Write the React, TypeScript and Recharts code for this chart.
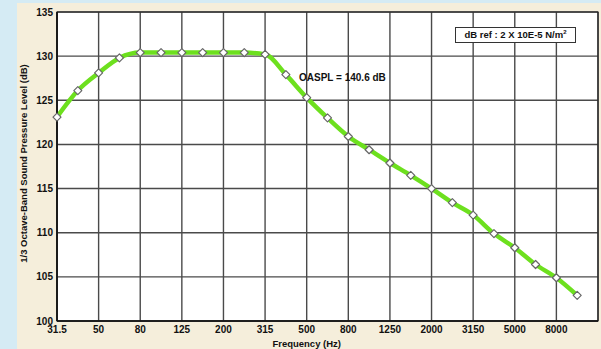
import React from 'react';
import { LineChart, Line, XAxis, YAxis, CartesianGrid, ReferenceArea } from 'recharts';

// 1/3 octave band centre frequencies (Hz)
const bandLabels = [
  '31.5', '40', '50', '63', '80', '100', '125', '160', '200', '250', '315', '400', '500',
  '630', '800', '1000', '1250', '1600', '2000', '2500', '3150', '4000', '5000', '6300', '8000', '10000',
];

// band level in dB
const bandLevels = [
  123.1, 126.1, 128.1, 129.8, 130.4, 130.4, 130.4, 130.4, 130.4, 130.4, 130.2, 127.9, 125.3,
  123.0, 120.9, 119.4, 117.9, 116.5, 115.0, 113.4, 112.0, 109.9, 108.3, 106.4, 104.9, 102.9,
];

// labelled x ticks (every other band)
const xTickLabels = ['31.5', '50', '80', '125', '200', '315', '500', '800', '1250', '2000', '3150', '5000', '8000'];
const yTicks = [100, 105, 110, 115, 120, 125, 130, 135];

const data = bandLabels.map((band, i) => ({ idx: i, band, level: bandLevels[i] }));
const xTicks = [...xTickLabels.map((l) => bandLabels.indexOf(l)), bandLabels.length];

const FONT = '"Liberation Sans", Arial, sans-serif';

const Diamond = (props: any) => {
  const { cx, cy } = props;
  if (cx == null || cy == null) return null;
  const r = 4;
  return (
    <polygon
      points={`${cx},${cy - r} ${cx + r},${cy} ${cx},${cy + r} ${cx - r},${cy}`}
      fill="#fff"
      stroke="#666"
      strokeWidth={1.2}
      strokeLinejoin="round"
    />
  );
};

const YLabel = ({ viewBox }: any) => {
  const cx = viewBox.x + 6.5;
  const cy = viewBox.y + viewBox.height / 2 - 3;
  return (
    <text
      x={cx}
      y={cy}
      transform={`rotate(-90 ${cx} ${cy})`}
      textAnchor="middle"
      dominantBaseline="central"
      fontFamily={FONT}
      fontWeight="bold"
      fontSize={9.5}
      fill="#111"
    >
      1/3 Octave-Band Sound Pressure Level (dB)
    </text>
  );
};

const XLabel = ({ viewBox }: any) => {
  const cx = viewBox.x + (viewBox.width * 12) / 26;
  const cy = viewBox.y + 22;
  return (
    <text
      x={cx}
      y={cy}
      textAnchor="middle"
      dominantBaseline="central"
      fontFamily={FONT}
      fontWeight="bold"
      fontSize={9.5}
      fill="#111"
    >
      Frequency (Hz)
    </text>
  );
};

const tickStyle = { fontFamily: FONT, fontWeight: 'bold', fontSize: 10, fill: '#111' };

export default function App() {
  return (
    <div style={{ position: 'absolute', left: 0, top: 0, width: 601, height: 349, background: '#d5ebf4', overflow: 'hidden' }}>
      <div style={{ position: 'absolute', left: 17, top: 3, width: 584, height: 346, background: '#f5eedb' }}>
        <LineChart width={584} height={346} data={data} margin={{ top: 9, right: 3, left: 0, bottom: 0 }}>
          <CartesianGrid fill="#fff" stroke="#4a4a4a" strokeWidth={1.4} />
          <XAxis
            dataKey="idx"
            type="number"
            domain={[0, bandLabels.length]}
            ticks={xTicks}
            interval={0}
            tickFormatter={(v: number) => (v < bandLabels.length ? bandLabels[v] : '')}
            tick={tickStyle}
            tickLine={false}
            tickSize={0}
            tickMargin={5}
            height={28}
            axisLine={{ stroke: '#111', strokeWidth: 1.6 }}
            label={<XLabel />}
          />
          <YAxis
            type="number"
            domain={[100, 135]}
            ticks={yTicks}
            interval={0}
            tick={tickStyle}
            tickLine={false}
            tickSize={0}
            tickMargin={4}
            width={40}
            axisLine={{ stroke: '#111', strokeWidth: 1.6 }}
            label={<YLabel />}
          />
          <ReferenceArea x1={0} x2={bandLabels.length} y1={100} y2={135} fill="none" stroke="#222" strokeWidth={1.2} />
          <Line
            type="monotone"
            dataKey="level"
            stroke="#6de01e"
            strokeWidth={4.5}
            dot={<Diamond />}
            activeDot={false}
            isAnimationActive={false}
          />
        </LineChart>
      </div>
      <div
        style={{
          position: 'absolute',
          left: 299,
          top: 72,
          fontFamily: FONT,
          fontWeight: 'bold',
          fontSize: 10,
          lineHeight: '12px',
          color: '#111',
          whiteSpace: 'nowrap',
        }}
      >
        OASPL = 140.6 dB
      </div>
      <div
        style={{
          position: 'absolute',
          left: 455,
          top: 27,
          width: 119,
          height: 14,
          border: '1px solid #333',
          background: '#fff',
          fontFamily: FONT,
          fontWeight: 'bold',
          fontSize: 9.5,
          lineHeight: '14px',
          color: '#111',
          textAlign: 'center',
          whiteSpace: 'nowrap',
        }}
      >
        dB ref : 2 X 10E-5 N/m<sup style={{ fontSize: 6, lineHeight: 0 }}>2</sup>
      </div>
    </div>
  );
}
